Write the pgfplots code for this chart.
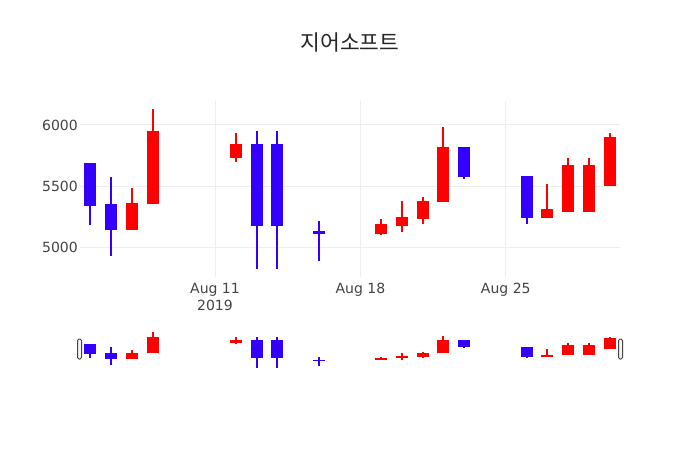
\documentclass[border=0pt]{standalone}
\usepackage{fontspec}
\setmainfont{DejaVu Sans}
\newfontfamily\krfont{Noto Sans CJK KR}
\usepackage{pgfplots}
\pgfplotsset{compat=1.18}
\usepackage{pgfplotstable}

\definecolor{upred}{RGB}{255,0,0}
\definecolor{downblue}{RGB}{51,0,255}
\definecolor{gridc}{RGB}{238,238,238}
\definecolor{textc}{RGB}{68,68,68}

% day index: 0 = Aug 5 2019
% d  open  high  low  close
\pgfplotstableread{
d  o    h    l    c
2  5140 5480 5140 5360
3  5350 6130 5350 5950
7  5730 5930 5700 5840
14 5110 5230 5100 5190
15 5170 5380 5120 5250
16 5230 5410 5190 5380
17 5370 5980 5370 5820
22 5240 5520 5240 5310
23 5290 5730 5290 5670
24 5290 5730 5290 5670
25 5500 5930 5500 5900
}\up
\pgfplotstableread{
d  o    h    l    c
0  5690 5690 5180 5340
1  5350 5570 4930 5140
8  5840 5950 4820 5170
9  5840 5950 4820 5170
11 5130 5210 4890 5110
18 5820 5820 5560 5570
21 5580 5580 5190 5240
}\down

\pgfplotsset{
  wick/.style={draw=none, mark=none, forget plot,
    error bars/.cd, y dir=both, y explicit, error mark=none,
    error bar style={draw=#1, line width=2pt, line cap=butt}},
  body/.style={draw=none, mark=none, forget plot,
    error bars/.cd, y dir=both, y explicit, error mark=none,
    error bar style={draw=#1, line width=12pt, line cap=butt}},
  candles/.style={
    scale only axis, width=540pt, xmin=-0.5, xmax=25.5,
    ymin=4755, ymax=6196,
    axis line style={draw=none}, major tick length=0pt,
  },
}

\newcommand\drawcandles{%
  \addplot[wick=upred] table[x=d, y expr={(\thisrow{h}+\thisrow{l})/2},
    y error expr={(\thisrow{h}-\thisrow{l})/2}] {\up};
  \addplot[wick=downblue] table[x=d, y expr={(\thisrow{h}+\thisrow{l})/2},
    y error expr={(\thisrow{h}-\thisrow{l})/2}] {\down};
  \addplot[body=upred] table[x=d, y expr={(\thisrow{o}+\thisrow{c})/2},
    y error expr={(\thisrow{c}-\thisrow{o})/2}] {\up};
  \addplot[body=downblue] table[x=d, y expr={(\thisrow{o}+\thisrow{c})/2},
    y error expr={(\thisrow{o}-\thisrow{c})/2}] {\down};
}

\begin{document}
\begin{tikzpicture}
\useasboundingbox (0pt,0pt) rectangle (700pt,450pt);
\fill[white] (0pt,0pt) rectangle (700pt,450pt);

\node[text=black!85, font=\krfont\fontsize{21.5}{25}\selectfont] at (350pt,408pt) {지어소프트};

% main chart
\begin{axis}[candles, at={(80pt,173pt)}, anchor=south west, height=176pt,
    xtick={6,13,20},
    xticklabels={{Aug 11\\2019}, {Aug 18}, {Aug 25}},
    ytick={5000,5500,6000},
    grid=major, major grid style={gridc, line width=1pt},
    /pgf/number format/assume math mode=true,
    /pgf/number format/1000 sep={},
    tick label style={font=\fontsize{14}{17}\selectfont, text=textc},
    xticklabel style={align=center, inner sep=0pt, anchor=north, yshift=-6pt},
    yticklabel style={inner sep=2pt},
  ]
  \drawcandles
\end{axis}

% range slider
\begin{axis}[candles, at={(80pt,80pt)}, anchor=south west, height=40pt,
    xtick=\empty, ytick=\empty]
  \drawcandles
\end{axis}
\draw[rounded corners=1.5pt, fill=gray!8, draw=textc, line width=1pt] (77.5pt,91pt) rectangle (81.5pt,111pt);
\draw[rounded corners=1.5pt, fill=gray!8, draw=textc, line width=1pt] (618.5pt,91pt) rectangle (622.5pt,111pt);
\end{tikzpicture}
\end{document}
